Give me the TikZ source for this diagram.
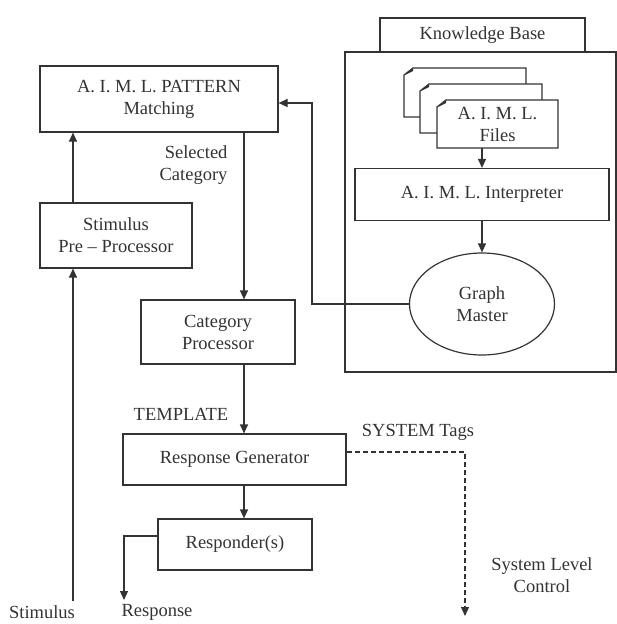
\documentclass[tikz,border=0pt]{standalone}
\usepackage{fontspec}
\setmainfont{Liberation Serif}
\usetikzlibrary{arrows.meta,shapes.geometric,calc}
\definecolor{ink}{HTML}{333333}
% a sheet of paper with a folded top-left corner: x0 y0 x1 y1
\newcommand\papersheet[4]{%
  \draw[ln, fill=white] (#1+9,#2) -- (#3,#2) -- (#3,#4) -- (#1,#4) -- (#1,#2+7) -- cycle;
  \fill[ink] (#1+1,#2+7) -- (#1+9,#2) -- (#1+9,#2+3) -- cycle;
}
\begin{document}
\begin{tikzpicture}[x=1pt,y=-1pt,
  every node/.style={font=\fontsize{18.5}{22}\selectfont, text=ink},
  ln/.style={draw=ink, line width=1.2pt},
  box/.style={ln, rectangle, align=center, inner sep=0pt},
  arr/.style={ln, -{Triangle[length=9pt,width=8pt]}}]
\useasboundingbox (0,0) rectangle (617,624);

% knowledge base container and its tab
\node[box, minimum width=271pt, minimum height=320pt] (kb) at (480.5,212) {};
\node[box, minimum width=205pt, minimum height=34pt] (kbtab) at (482.5,35) {Knowledge Base};

% stacked A.I.M.L. files
\papersheet{404}{68}{526}{117}
\papersheet{420}{84}{542}{133}
\papersheet{437}{100}{558}{148}
\node[minimum width=121pt, minimum height=48pt, inner sep=0pt, align=center] (files) at (497.5,124) {A. I. M. L.\\Files};

\node[box, minimum width=254pt, minimum height=52pt] (interp) at (482,194.5) {A. I. M. L. Interpreter};
\node[ln, ellipse, inner sep=0pt, align=center, minimum width=145pt, minimum height=102pt] (gm) at (482,304) {Graph\\Master};

% processing chain
\node[box, minimum width=238pt, minimum height=66pt] (pat) at (159,99) {A. I. M. L. PATTERN\\Matching};
\node[box, minimum width=152pt, minimum height=65pt] (stim) at (116,235.5) {Stimulus\\Pre – Processor};
\node[box, minimum width=154pt, minimum height=64pt] (cat) at (218,332) {Category\\Processor};
\node[box, minimum width=223pt, minimum height=51pt] (gen) at (234.5,459.5) {Response Generator};
\node[box, minimum width=154pt, minimum height=51pt] (resp) at (235,544.5) {Responder(s)};

% labels
\node[anchor=east, align=right] (selcat) at (231,165) {Selected\\Category};
\node (tmpl) at (181,414) {TEMPLATE};
\node (systags) at (418,432) {SYSTEM Tags};
\node[align=center] (slc) at (542,575) {System Level\\Control};
\node (stimlbl) at (42,612) {Stimulus};
\node (resplbl) at (157,612) {Response};

% connectors
\draw[arr] (files.south -| interp.north) -- (interp.north);
\draw[arr] (interp.south) -- (gm.north);
\coordinate (fb) at (312,103);
\draw[arr] (gm.west) -| (fb) -- (fb -| pat.east);

\coordinate (spine) at (244,0);
\draw[arr] (spine |- pat.south) -- (spine |- cat.north);
\draw[arr] (spine |- cat.south) -- (spine |- gen.north);
\draw[arr] (spine |- gen.south) -- (spine |- resp.north);

\coordinate (stimin) at (73,601);
\draw[arr] (stimin) -- (stimin |- stim.south);
\draw[arr] (stimin |- stim.north) -- (stimin |- pat.south);

\coordinate (rout) at (124,600);
\draw[arr] ($(resp.west)+(0,-8.5)$) -| (rout);

\coordinate (sysout) at (465,616);
\draw[arr, dash pattern=on 5pt off 3pt] ($(gen.east)+(0,-7.5)$) -| (sysout);
\end{tikzpicture}
\end{document}
